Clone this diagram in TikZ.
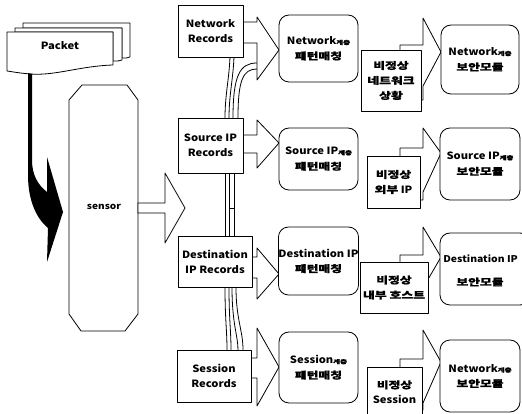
\documentclass[tikz,border=0pt]{standalone}
\usepackage{fontspec}
\setmainfont{Noto Sans CJK KR}[FakeStretch=1.12]
\newfontfamily\korfam{Noto Sans CJK KR}[FakeStretch=1.35,FakeBold=1.2]
\newcommand\smk[1]{{\korfam\fontsize{5.5}{6}\selectfont #1}}
\newcommand\kor[1]{{\korfam\fontsize{9.5}{11}\selectfont #1}}
\begin{document}
\begin{tikzpicture}[x=1pt,y=-1pt,line width=0.8pt,line join=round,
  box/.style={draw,fill=white,inner sep=0pt,align=center,font=\bfseries\fontsize{10}{15}\selectfont},
  rbox/.style={box,rounded corners=10pt},
  blk/.style={draw,fill=white}]
\useasboundingbox (0,0) rectangle (522,414);

% Packet stack
\path[blk] (23,23) -- (130,23) -- (130,57) .. controls (127,58) .. (122,58) -- (122,28) -- (23,28) -- cycle;
\path[blk] (15,28) -- (122,28) -- (122,60) .. controls (119,61) .. (113,61) -- (113,32) -- (15,32) -- cycle;
\path[blk] (7,32) -- (113,32) -- (113,65) .. controls (80,66) and (55,76) .. (30,74) .. controls (20,73) .. (7,71) -- cycle;
\node[font=\bfseries\fontsize{10}{12}\selectfont] (packet) at (60,46) {Packet};

% black curved arrow
\fill (28,73) -- (32,74) -- (32,160) .. controls (32,175) and (38,185) .. (47,192) -- (47,157) -- (63,212) -- (47,262) -- (48,228) .. controls (36,218) and (28,200) .. (28,175) -- cycle;

% sensor
\draw[fill=white] (82,85) -- (127,85) -- (138,100) -- (138,314) -- (125,331) -- (81,331) -- (69,314) -- (69,100) -- cycle;
\node[font=\bfseries\fontsize{9}{11}\selectfont] (sensor) at (104,207) {sensor};

% big arrow from sensor
\path[blk] (138,203) -- (165,203) -- (165,173) -- (185,208) -- (165,243) -- (165,213) -- (138,213) -- cycle;

% pipes
\draw (230,57) .. controls (229,80) and (225,95) .. (225,118);
\draw (234,57) .. controls (233,80) and (229,95) .. (229,118);
\draw (257,63) .. controls (240,63) and (233,75) .. (233,118);
\draw (257,69) .. controls (243,69) and (238,80) .. (238,118);
\draw (225,173) -- (225,236);
\draw (229,173) -- (229,236);
\draw (234,173) -- (234,236);
\draw (229,208) -- (234,208);
\draw (225,287) .. controls (225,320) and (227,330) .. (227,350);
\draw (229,287) .. controls (229,320) and (231,330) .. (231,350);
\draw (232,287) .. controls (232,325) and (238,335) .. (238,350);
\draw (236,287) .. controls (236,320) and (243,330) .. (243,350);

% block arrows records -> pattern
\path[blk] (243,22) -- (257,22) -- (257,17) -- (279,50) -- (257,80) -- (257,43) -- (243,43);
\path[blk] (243,135) -- (257,135) -- (257,120) -- (279,143) -- (257,168) -- (257,153) -- (243,153);
\path[blk] (252,257) -- (257,257) -- (257,248) -- (279,274) -- (257,299) -- (257,278) -- (252,278);
\path[blk] (251,358) -- (257,358) -- (257,328) -- (279,367) -- (257,406) -- (257,378) -- (251,378);

% record boxes
\node[box,minimum width=65pt,minimum height=52pt] (netrec) at (210.5,31) {Network\\Records};
\node[box,minimum width=65pt,minimum height=55pt] (srcrec) at (210.5,145.5) {Source IP\\Records};
\node[box,minimum width=74pt,minimum height=51pt] (dstrec) at (215,261.5) {Destination\\IP Records};
\node[box,minimum width=74pt,minimum height=52pt] (sesrec) at (214,376) {Session\\Records};

% pattern boxes
\node[rbox,minimum width=79pt,minimum height=67pt] (netpat) at (318.5,48.5) {Network\smk{계층}\\\kor{패턴매칭}};
\node[rbox,minimum width=79pt,minimum height=62pt] (srcpat) at (318.5,159) {Source IP\smk{계층}\\\kor{패턴매칭}};
\node[rbox,minimum width=79pt,minimum height=68pt] (dstpat) at (318.5,261) {Destination IP\\\kor{패턴매칭}};
\node[rbox,minimum width=79pt,minimum height=71pt] (sespat) at (318.5,367.5) {Session\smk{계층}\\\kor{패턴매칭}};

% block arrows pattern -> security
\path[blk] (400,45) -- (423,45) -- (423,18) -- (441,52) -- (423,86) -- (423,100) -- (400,100) -- cycle;
\path[blk] (400,148) -- (423,148) -- (423,128) -- (441,153) -- (423,192) -- (423,200) -- (400,200) -- cycle;
\path[blk] (400,255) -- (423,255) -- (423,227) -- (441,257) -- (423,288) -- (423,300) -- (400,300) -- cycle;
\path[blk] (400,359) -- (423,359) -- (423,330) -- (441,362) -- (423,403) -- (423,410) -- (400,410) -- cycle;

% abnormal boxes
\node[box,minimum width=60pt,minimum height=61pt] (netab) at (391,80.5) {\kor{비정상}\\\kor{네트워크}\\\kor{상황}};
\node[box,minimum width=53pt,minimum height=52pt] (srcab) at (393.5,182) {\kor{비정상}\\\kor{외부} IP};
\node[box,minimum width=68pt,minimum height=51pt] (dstab) at (394,287.5) {\kor{비정상}\\\kor{내부 호스트}};
\node[box,minimum width=55pt,minimum height=50pt] (sesab) at (394.5,392) {\kor{비정상}\\Session};

% security modules
\node[rbox,minimum width=78pt,minimum height=69pt] (netsec) at (480,59.5) {Network\smk{계층}\\\kor{보안모듈}};
\node[rbox,minimum width=80pt,minimum height=72pt] (srcsec) at (480,164) {Source IP\smk{계층}\\\kor{보안모듈}};
\node[rbox,minimum width=90pt,minimum height=72pt] (dstsec) at (485,269) {};
\node[font=\bfseries\fontsize{9.3}{12}\selectfont,anchor=west,inner sep=0pt] (dsttxt) at (443,259) {Destination IP};
\node[font=\bfseries,inner sep=0pt] (dsttxt2) at (480,282) {\kor{보안모듈}};
\node[rbox,minimum width=80pt,minimum height=72pt] (sessec) at (480,376) {Network\smk{계층}\\\kor{보안모듈}};
\end{tikzpicture}
\end{document}
